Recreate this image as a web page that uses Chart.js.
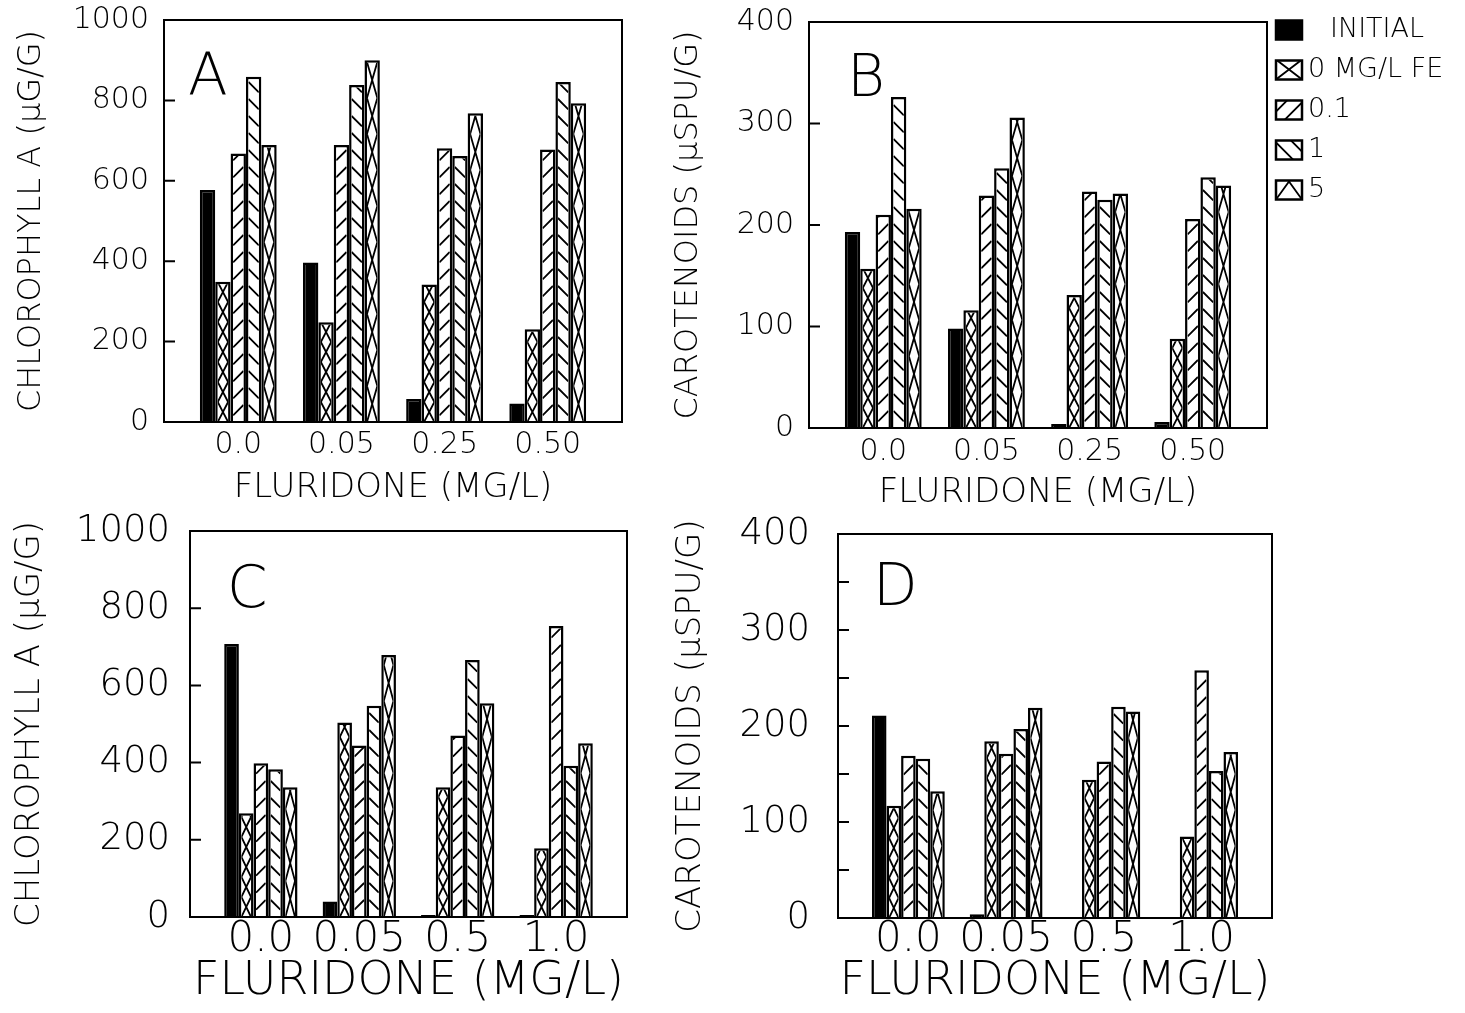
<!DOCTYPE html>
<html>
<head>
<meta charset="utf-8">
<script src="https://cdn.jsdelivr.net/npm/chart.js@4.4.1/dist/chart.umd.min.js"></script>
<style>
  html, body { margin: 0; padding: 0; background: #fff; }
  #page { position: relative; width: 1465px; height: 1013px; }
  #page canvas { position: absolute; left: 0; top: 0; }
</style>
</head>
<body>
<div id="page">
  <canvas id="chartA" width="1465" height="1013"></canvas>
  <canvas id="chartB" width="1465" height="1013"></canvas>
  <canvas id="chartC" width="1465" height="1013"></canvas>
  <canvas id="chartD" width="1465" height="1013"></canvas>
</div>
<script>
// series (Fe treatment) and x categories (fluridone dose)
const seriesLabels = ["INITIAL", "0 MG/L FE", "0.1", "1", "5"];
const seriesHatch = ["solid", "cross", "fwd", "back", "bigx"];
const dosesTop = ["0.0", "0.05", "0.25", "0.50"];
const dosesBottom = ["0.0", "0.05", "0.5", "1.0"];

// A: chlorophyll a (ug/g)
const chlA_initial = [577, 397, 57, 46];
const chlA_fe0 = [349, 248, 342, 231];
const chlA_fe01 = [668, 689, 681, 678];
const chlA_fe1 = [859, 838, 662, 846];
const chlA_fe5 = [689, 900, 768, 793];

// B: carotenoids (uSPU/g)
const carB_initial = [193, 98, 4, 6];
const carB_fe0 = [157, 116, 131, 88];
const carB_fe01 = [210, 229, 233, 206];
const carB_fe1 = [326, 256, 225, 247];
const carB_fe5 = [216, 306, 231, 239];

// C: chlorophyll a (ug/g)
const chlC_initial = [707, 40, 5, 5];
const chlC_fe0 = [269, 504, 336, 178];
const chlC_fe01 = [398, 444, 470, 754];
const chlC_fe1 = [383, 547, 666, 392];
const chlC_fe5 = [336, 679, 554, 450];

// D: carotenoids (uSPU/g)
const carD_initial = [211, 4, null, null];
const carD_fe0 = [117, 184, 144, 85];
const carD_fe01 = [169, 171, 163, 258];
const carD_fe1 = [166, 197, 220, 153];
const carD_fe5 = [132, 219, 215, 173];

const FONT = "'DejaVu Sans', sans-serif";
const WEIGHT = "200";
const W = 1465, H = 1013;

// hatch lines inside a rectangle
function drawHatch(ctx, kind, x0, y0, x1, y1) {
  const w = x1 - x0;
  ctx.beginPath();
  if (kind === "cross" || kind === "bigx") {
    const p = kind === "cross" ? 20 : 36;
    for (let y = y1; y > y0 - p; y -= p) {
      ctx.moveTo(x0, y); ctx.lineTo(x1, y - p);
      ctx.moveTo(x1, y); ctx.lineTo(x0, y - p);
    }
  } else if (kind === "fwd") {
    for (let y = y1 + w; y > y0; y -= 17) {
      ctx.moveTo(x0, y); ctx.lineTo(x1, y - w);
    }
  } else if (kind === "back") {
    for (let y = y1; y > y0 - w; y -= 17) {
      ctx.moveTo(x0, y); ctx.lineTo(x1, y + w);
    }
  }
  ctx.stroke();
}

const hatchPlugin = {
  id: "hatch",
  afterDatasetsDraw(chart) {
    const ctx = chart.ctx;
    chart.data.datasets.forEach((ds, di) => {
      const kind = seriesHatch[di];
      if (kind === "solid") return;
      chart.getDatasetMeta(di).data.forEach((bar) => {
        const { x, y, base, width } = bar.getProps(["x", "y", "base", "width"], true);
        if (y == null || isNaN(y)) return;
        const bw = bar.options.borderWidth;
        const x0 = x - width / 2 + bw;
        const x1 = x + width / 2 - bw;
        const top = Math.min(y, base) + bw;
        const bottom = Math.max(y, base);
        if (bottom - top <= 0) return;
        ctx.save();
        ctx.beginPath();
        ctx.rect(x0, top, x1 - x0, bottom - top);
        ctx.clip();
        ctx.strokeStyle = "#000";
        ctx.lineWidth = 1.8;
        drawHatch(ctx, kind, x0, top, x1, bottom);
        ctx.restore();
      });
    });
  },
};

// box around the plot and inward tick marks on the y axis
const framePlugin = {
  id: "frame",
  afterDatasetsDraw(chart) {
    const { ctx, chartArea: a } = chart;
    const ys = chart.scales.y;
    ctx.save();
    ctx.strokeStyle = "#000";
    ctx.lineWidth = 2;
    ctx.strokeRect(a.left, a.top, a.right - a.left, a.bottom - a.top);
    ctx.beginPath();
    ys.ticks.forEach((t) => {
      const py = ys.getPixelForValue(t.value);
      ctx.moveTo(a.left, py);
      ctx.lineTo(a.left + 11, py);
    });
    ctx.stroke();
    ctx.restore();
  },
};

// big panel letter
const tagPlugin = {
  id: "tag",
  afterDraw(chart, args, opts) {
    if (!opts.text) return;
    const { ctx, chartArea: a } = chart;
    ctx.save();
    ctx.font = `${WEIGHT} ${opts.size}px ${FONT}`;
    ctx.fillStyle = "#000";
    ctx.textBaseline = "alphabetic";
    ctx.fillText(opts.text, a.left + opts.dx, a.top + opts.dy);
    ctx.restore();
  },
};

// legend to the right of panel B
const keyPlugin = {
  id: "key",
  afterDraw(chart, args, opts) {
    if (!opts.show) return;
    const { ctx, chartArea: a } = chart;
    ctx.save();
    ctx.font = `${WEIGHT} 27px ${FONT}`;
    ctx.textBaseline = "middle";
    ctx.strokeStyle = "#000";
    chart.data.datasets.forEach((ds, i) => {
      const cy = a.top + 8 + i * 40;
      const sx = a.right + 9, sw = 26, sh = 19;
      const sy = cy - sh / 2;
      const kind = seriesHatch[i];
      ctx.fillStyle = kind === "solid" ? "#000" : "#fff";
      ctx.fillRect(sx, sy, sw, sh);
      if (kind !== "solid") {
        ctx.save();
        ctx.beginPath();
        ctx.rect(sx, sy, sw, sh);
        ctx.clip();
        ctx.lineWidth = 1.8;
        drawHatch(ctx, kind, sx, sy, sx + sw, sy + sh);
        ctx.restore();
      }
      ctx.lineWidth = 2.5;
      ctx.strokeRect(sx, sy, sw, sh);
      ctx.fillStyle = "#000";
      ctx.fillText(ds.label, a.right + (i === 0 ? 63 : 41), cy);
    });
    ctx.restore();
  },
};

function makePanel(id, p) {
  const lhYTitle = p.yTitleSize * 1.2;
  const lhXTitle = p.xTitleSize * 1.2;
  const lhXTick = p.xTickSize * 1.2;
  const padLeft = p.yTitleCX - lhYTitle / 2;
  const yWidth = p.box.l - padLeft;
  const padBottom = H - (p.xTitleCY + lhXTitle / 2);
  const xHeight = p.xTitleCY + lhXTitle / 2 - p.box.b;
  const xTickPad = p.xTickCY - p.box.b - lhXTick / 2;

  new Chart(document.getElementById(id), {
    type: "bar",
    data: {
      datasets: p.series.map((vals, i) => ({
        label: seriesLabels[i],
        data: vals.map((v, k) => ({ x: k, y: v })),
        backgroundColor: seriesHatch[i] === "solid" ? "#000" : "#fff",
        borderColor: "#000",
        borderWidth: 2.5,
        categoryPercentage: 0.745,
        barPercentage: 1,
      })),
    },
    options: {
      responsive: false,
      animation: false,
      devicePixelRatio: 1,
      layout: {
        padding: { left: padLeft, top: p.box.t, right: W - p.box.r, bottom: padBottom },
      },
      plugins: {
        legend: { display: false },
        tooltip: { enabled: false },
        tag: p.tag,
        key: { show: !!p.key },
      },
      scales: {
        x: {
          type: "linear",
          min: -0.72,
          max: 3.72,
          offset: false,
          afterBuildTicks: (s) => {
            s.ticks = p.doses.map((d, i) => ({ value: i }));
          },
          afterFit: (s) => {
            s.height = xHeight;
            s.paddingLeft = 0;
            s.paddingRight = 0;
          },
          grid: { display: false, drawTicks: false, offset: false },
          border: { display: false },
          ticks: {
            autoSkip: false,
            maxRotation: 0,
            padding: xTickPad,
            color: "#000",
            font: { family: FONT, weight: WEIGHT, size: p.xTickSize },
            callback: (v) => p.doses[v],
          },
          title: {
            display: true,
            text: "FLURIDONE (MG/L)",
            color: "#000",
            padding: 0,
            font: { family: FONT, weight: WEIGHT, size: p.xTitleSize },
          },
        },
        y: {
          min: 0,
          max: p.yMax,
          afterFit: (s) => {
            s.width = yWidth;
            s.paddingTop = 0;
            s.paddingBottom = 0;
          },
          grid: { display: false, drawTicks: false },
          border: { display: false },
          ticks: {
            stepSize: p.yStep,
            padding: p.yTickPad,
            color: "#000",
            font: { family: FONT, weight: WEIGHT, size: p.yTickSize },
            callback: (v) => (v % p.yLabelEvery === 0 ? String(v) : ""),
          },
          title: {
            display: true,
            text: p.yTitle,
            color: "#000",
            padding: 0,
            font: { family: FONT, weight: WEIGHT, size: p.yTitleSize },
          },
        },
      },
    },
    plugins: [hatchPlugin, framePlugin, tagPlugin, keyPlugin],
  });
}

makePanel("chartA", {
  box: { l: 164, t: 20, r: 622, b: 422 },
  series: [chlA_initial, chlA_fe0, chlA_fe01, chlA_fe1, chlA_fe5],
  doses: dosesTop,
  yMax: 1000, yStep: 200, yLabelEvery: 200,
  yTickSize: 30, yTickPad: 15,
  yTitle: "CHLOROPHYLL A (µG/G)", yTitleSize: 32, yTitleCX: 32,
  xTickSize: 30, xTickCY: 445,
  xTitleSize: 34, xTitleCY: 488,
  tag: { text: "A", size: 58, dx: 24, dy: 75 },
});

makePanel("chartB", {
  box: { l: 809, t: 22, r: 1267, b: 428 },
  series: [carB_initial, carB_fe0, carB_fe01, carB_fe1, carB_fe5],
  doses: dosesTop,
  yMax: 400, yStep: 100, yLabelEvery: 100,
  yTickSize: 30, yTickPad: 15,
  yTitle: "CAROTENOIDS (µSPU/G)", yTitleSize: 32, yTitleCX: 689,
  xTickSize: 30, xTickCY: 452,
  xTitleSize: 34, xTitleCY: 493,
  tag: { text: "B", size: 58, dx: 38, dy: 74 },
  key: true,
});

makePanel("chartC", {
  box: { l: 190, t: 531, r: 627, b: 917 },
  series: [chlC_initial, chlC_fe0, chlC_fe01, chlC_fe1, chlC_fe5],
  doses: dosesBottom,
  yMax: 1000, yStep: 100, yLabelEvery: 200,
  yTickSize: 37, yTickPad: 20,
  yTitle: "CHLOROPHYLL A (µG/G)", yTitleSize: 34, yTitleCX: 30,
  xTickSize: 42, xTickCY: 940,
  xTitleSize: 46, xTitleCY: 982,
  tag: { text: "C", size: 58, dx: 37, dy: 76 },
});

makePanel("chartD", {
  box: { l: 838, t: 534, r: 1272, b: 918 },
  series: [carD_initial, carD_fe0, carD_fe01, carD_fe1, carD_fe5],
  doses: dosesBottom,
  yMax: 400, yStep: 50, yLabelEvery: 100,
  yTickSize: 37, yTickPad: 28,
  yTitle: "CAROTENOIDS (µSPU/G)", yTitleSize: 34, yTitleCX: 691,
  xTickSize: 42, xTickCY: 940,
  xTitleSize: 46, xTitleCY: 982,
  tag: { text: "D", size: 58, dx: 35, dy: 71 },
});
</script>
</body>
</html>
